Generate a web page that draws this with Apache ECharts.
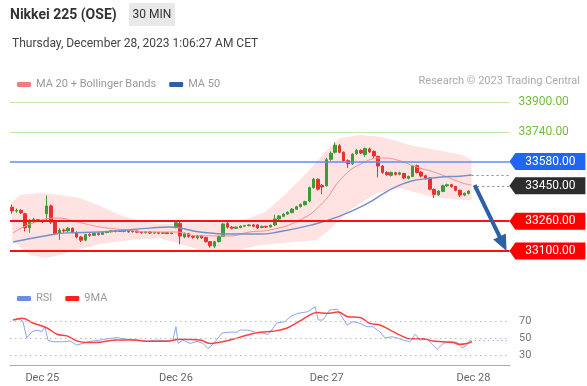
<!DOCTYPE html>
<html><head><meta charset="utf-8">
<script src="https://cdn.jsdelivr.net/npm/echarts@6/dist/echarts.min.js"></script>
<style>html,body{margin:0;padding:0;background:#fff}#c{width:587px;height:386px}</style>
</head><body><div id="c"></div>
<script>
// ---------- DATA ----------
// candles: [open, close, low, high], 30-min bars
const candles = [
 [33335,33315,33300,33350],[33315,33318,33305,33328],[33318,33305,33298,33325],[33300,33225,33205,33305],
 [33225,33262,33198,33270],[33262,33270,33250,33278],[33268,33262,33255,33272],[33262,33258,33250,33268],
 [33300,33342,33262,33398],[33342,33255,33245,33350],[33255,33195,33185,33262],[33195,33212,33160,33222],
 [33212,33208,33198,33220],[33208,33222,33200,33228],[33222,33200,33195,33226],[33200,33175,33168,33205],
 [33175,33158,33148,33180],[33158,33188,33152,33192],[33188,33184,33176,33195],[33184,33194,33180,33200],
 [33194,33189,33182,33200],[33189,33199,33186,33205],[33199,33203,33195,33208],[33203,33208,33200,33212],
 [33208,33205,33200,33212],[33205,33210,33202,33215],[33210,33206,33200,33214],[33206,33203,33198,33210],
 [33203,33207,33199,33211],[33207,33201,33196,33210],[33201,33198,33193,33205],[33198,33202,33194,33206],
 [33202,33196,33192,33205],[33196,33199,33192,33203],[33199,33195,33190,33203],[33195,33198,33191,33202],
 [33198,33194,33190,33201],[33194,33197,33190,33200],[33228,33252,33222,33262],[33248,33180,33135,33265],
 [33175,33192,33168,33200],[33192,33178,33172,33198],[33178,33174,33166,33184],[33170,33182,33162,33186],
 [33182,33170,33165,33186],[33172,33150,33145,33176],[33150,33128,33118,33154],[33126,33150,33115,33154],
 [33150,33178,33146,33182],[33178,33245,33175,33250],[33248,33228,33220,33264],[33228,33222,33216,33234],
 [33222,33228,33218,33232],[33226,33233,33222,33238],[33233,33236,33228,33240],[33236,33240,33232,33244],
 [33240,33233,33228,33245],[33240,33224,33218,33244],[33226,33232,33222,33236],[33232,33229,33224,33236],
 [33229,33238,33226,33242],[33240,33272,33234,33295],[33272,33288,33266,33294],[33286,33298,33282,33303],
 [33298,33308,33294,33313],[33306,33325,33302,33330],[33324,33338,33320,33343],[33338,33350,33334,33355],
 [33348,33365,33344,33370],[33368,33440,33362,33446],[33440,33485,33435,33492],[33485,33432,33425,33490],
 [33452,33444,33405,33460],[33450,33590,33445,33600],[33592,33625,33585,33635],[33630,33668,33622,33684],
 [33665,33630,33624,33675],[33630,33585,33578,33634],[33585,33568,33545,33592],[33568,33620,33562,33625],
 [33622,33640,33615,33648],[33640,33626,33620,33646],[33618,33650,33605,33655],[33648,33632,33626,33655],
 [33635,33610,33600,33640],[33608,33556,33495,33612],[33556,33522,33515,33562],[33522,33510,33504,33528],
 [33506,33522,33500,33526],[33520,33512,33505,33525],[33512,33520,33506,33526],[33516,33492,33486,33520],
 [33490,33500,33484,33505],[33500,33556,33496,33562],[33558,33522,33516,33564],[33524,33502,33496,33528],
 [33504,33490,33484,33510],[33492,33432,33426,33496],[33430,33404,33385,33436],[33402,33422,33396,33426],
 [33420,33450,33416,33456],[33450,33456,33444,33462],[33456,33446,33440,33460],[33446,33426,33420,33450],
 [33426,33400,33390,33430],[33400,33410,33394,33414],[33408,33422,33404,33426]
];
// [bar index, price]
const ma20 = [[0.2,33197],[4.8,33250],[10.4,33277],[15.1,33256],[20.4,33229],[26.6,33213],[32,33202],[37.8,33202],
 [43.6,33181],[50.5,33181],[55.2,33202],[59.8,33213],[66.8,33266],[72.1,33358],[76.8,33497],[81.4,33572],
 [86,33599],[89.3,33589],[93.9,33551],[98.6,33519],[104.6,33465],[106.7,33454]];
const ma50 = [[0.2,33148],[8.8,33186],[12.7,33197],[20.4,33202],[32,33223],[36.6,33229],[43.6,33202],[51.2,33191],
 [57.5,33191],[61.7,33202],[69.6,33240],[75.6,33283],[81.9,33347],[90,33454],[97.6,33492],[104.6,33503],[106.7,33508]];
const bandUpper = [[0,33363],[1.8,33401],[6.5,33411],[11.1,33401],[15.7,33385],[20.4,33342],[25,33293],[29.7,33261],
 [34.3,33245],[38,33245],[43.6,33252],[50.5,33255],[55.2,33277],[58.7,33309],[62.8,33390],[68.4,33519],[73.1,33642],
 [76.1,33707],[80.7,33723],[86,33712],[92.3,33669],[98.6,33642],[104.6,33615],[106.7,33589]];
const bandLower = [[0,33159],[4.1,33079],[7.6,33062],[11.1,33079],[15.7,33111],[20.4,33138],[27.3,33159],[34.3,33170],
 [39,33138],[43.6,33105],[50.5,33095],[57.5,33132],[62.8,33143],[70.7,33159],[74.4,33229],[78.4,33320],[84.7,33411],
 [90,33438],[97.6,33390],[104.6,33374],[106.7,33374]];
const rsi = [[0.2,72],[1.8,73],[2.5,70],[3.4,50.5],[4.6,58],[5.8,60],[6.9,58],[7.6,64],[8.3,48],[9.5,46],[11.8,46],
 [13.4,47],[15,42],[16.4,44],[18.1,46.5],[20.4,48],[22.7,50],[24.3,51],[26.6,49],[29,48],[31.3,46.5],[33.6,48],
 [35.9,47],[37.3,48],[38,64],[38.5,44],[39.6,48],[41.3,44],[42.9,46.5],[44.3,44],[45.4,38],[46.6,43],[48.7,56.5],
 [50.5,57.5],[52.2,57.5],[52.9,60],[54.7,60],[56.3,57.5],[58.2,56.5],[59.4,54.5],[61.4,68.5],[63.3,70],[64.5,76],
 [66.3,80],[68.6,82],[70.3,88],[71,72],[72.1,72],[73.7,84],[75.4,85],[77.7,66],[79.1,70],[80.7,68],[82.3,64],
 [83.7,64],[85.3,58],[86.5,50.5],[88.1,52],[89.3,50.5],[90.7,48],[92.3,46],[93.5,55],[94.6,48],[96.3,49],[97.6,42],
 [98.6,37],[100,44],[101.6,46],[103.2,45.5],[104.4,38.5],[105.5,42],[106.2,48]];
const rsiMa = [[0.2,72],[2.3,74],[4.8,68.5],[8.1,62.5],[10.4,55],[12.7,53],[15,47],[17.4,45],[20.4,45.5],[24.3,48],
 [28,48],[32,46.5],[35.9,46.5],[38.9,49],[43.6,48],[45.9,44],[48.2,45.5],[51.2,49],[54.5,54],[57.5,57.5],[60.5,58.5],
 [63.8,62.5],[66.8,71],[68.4,76],[70.7,81],[73.1,80],[75.6,81.5],[77.9,76],[80.7,75],[83,68],[85.3,66],[87.7,60],
 [90,54],[92.3,49.5],[95.3,49.5],[97.6,47],[100,46],[102.3,45],[103.9,43],[105.5,44],[106.7,46]];
const resistanceLevels = [33900, 33740];
const pivotLevel = 33580;
const lastLevel = 33450;
const supportLevels = [33260, 33100];
const target = [[107.4, 33454], [114.0, 33139]];
const rsiLevels = [70, 50, 30];
const rsiLast = 48;
const dayLabels = ['Dec 25', 'Dec 26', 'Dec 27', 'Dec 28'];
const dayIndex = [7, 38, 73, 107];

// ---------- CHART ----------
const FONT = 'Roboto, "Liberation Sans", Arial, sans-serif';
const catsMain = Array.from({length: 134}, (_, i) => String(i));
const catsRsi = Array.from({length: 116}, (_, i) => String(i));
const LEFT_END = -0.5, LINE_END = 115.5, TAG_X = 124.3;
const tagPath = 'path://M0,8.5L6,0L76,0L76,17L6,17Z';

function seg(x0, x1, v, lineStyle, label) {
  return [{coord: [x0, v], lineStyle, label: label || {show: false}}, {coord: [x1, v]}];
}
const greenStyle = {color: '#c3e4ad', width: 1, type: 'solid'};
const greenLabel = v => ({show: true, position: 'end', distance: 9, formatter: v.toFixed(2), color: '#72bd42', fontSize: 12, fontFamily: FONT});

const priceMarkLines = [
  ...resistanceLevels.map(v => seg(LEFT_END, LINE_END, v, greenStyle, greenLabel(v))),
  seg(LEFT_END, LINE_END, pivotLevel, {color: '#5d8ff0', width: 1.6, type: 'solid'}),
  ...supportLevels.map(v => seg(LEFT_END, LINE_END, v, {color: '#ff1010', width: 2, type: 'solid'})),
  seg(108.0, LINE_END, lastLevel, {color: '#888', width: 1, type: [2, 3]}),
  seg(ma50[ma50.length - 1][0], LINE_END, ma50[ma50.length - 1][1], {color: '#6f8cc4', width: 1, type: [2, 3]}),
  [{coord: target[0], symbol: 'none', lineStyle: {color: '#2e60a6', width: 4, type: 'solid'}, label: {show: false}},
   {coord: target[1], symbol: 'triangle', symbolSize: [14, 16]}]
];
const tag = (v, color) => ({coord: [TAG_X, v], itemStyle: {color}, label: {formatter: v.toFixed(2)}});
const priceTags = [
  tag(pivotLevel, '#2166f3'), tag(lastLevel, '#2d2d2d'),
  tag(supportLevels[0], '#ff0000'), tag(supportLevels[1], '#ff0000')
];
const rsiMarkLines = [
  ...rsiLevels.map(v => seg(LEFT_END, 114.8, v, {color: '#bbb', width: 1, type: [1.5, 3.5]},
      {show: true, position: 'end', distance: 12, formatter: String(v), color: '#777', fontSize: 11, fontFamily: FONT})),
  seg(rsi[rsi.length - 1][0], 114.8, rsiLast, {color: '#9db4f2', width: 1, type: [1.5, 3]})
];

const option = {
  animation: false,
  backgroundColor: '#fff',
  textStyle: {fontFamily: FONT},
  graphic: [
    {type: 'text', left: 10, top: 8, style: {text: 'Nikkei 225 (OSE)', font: 'bold 14px ' + FONT, fill: '#333'}},
    {type: 'rect', shape: {x: 129, y: 3, width: 46, height: 23}, style: {fill: '#e9e9e9'}},
    {type: 'text', x: 152, y: 15, style: {text: '30 MIN', font: '12px ' + FONT, fill: '#333', align: 'center', verticalAlign: 'middle'}},
    {type: 'text', x: 12, y: 44, style: {text: 'Thursday, December 28, 2023 1:06:27 AM CET', font: '12px ' + FONT, fill: '#444', verticalAlign: 'middle'}},
    {type: 'text', x: 580, y: 81, style: {text: 'Research \u00a9 2023 Trading Central', font: '11px ' + FONT, fill: '#aaa', align: 'right', verticalAlign: 'middle'}}
  ],
  legend: [
    {left: 12, top: 74, icon: 'roundRect', itemWidth: 14, itemHeight: 5, itemGap: 13, selectedMode: false,
     textStyle: {color: '#999', fontSize: 11},
     data: [{name: 'MA 20 + Bollinger Bands', itemStyle: {color: '#f47c7c', borderWidth: 0}},
            {name: 'MA 50', itemStyle: {color: '#2e5ea8', borderWidth: 0}}]},
    {left: 12, top: 288, icon: 'roundRect', itemWidth: 14, itemHeight: 5, itemGap: 13, selectedMode: false,
     textStyle: {color: '#999', fontSize: 11},
     data: [{name: 'RSI', itemStyle: {color: '#6b8de8', borderWidth: 0}},
            {name: '9MA', itemStyle: {color: '#ff2020', borderWidth: 0}}]}
  ],
  grid: [
    {left: 10, top: 92.69, width: 577.59, height: 167.6},
    {left: 10, top: 305, width: 500, height: 60.54}
  ],
  xAxis: [
    {type: 'category', gridIndex: 0, data: catsMain, boundaryGap: true, show: false},
    {type: 'value', gridIndex: 0, min: -0.5, max: 133.5, show: false},
    {type: 'category', gridIndex: 1, data: catsRsi, boundaryGap: true,
     axisLine: {lineStyle: {color: '#aaa', width: 1}},
     axisTick: {interval: i => i === 0, length: 5, lineStyle: {color: '#aaa'}},
     axisLabel: {interval: i => dayIndex.includes(i), formatter: (v, i) => {const k = dayIndex.indexOf(Number(v)); return k >= 0 ? dayLabels[k] : '';},
       color: '#666', fontSize: 11, margin: 7}},
    {type: 'value', gridIndex: 1, min: -0.5, max: 115.5, show: false}
  ],
  yAxis: [
    {type: 'value', gridIndex: 0, min: 33050, max: 33950, show: false},
    {type: 'value', gridIndex: 1, min: 17.5, max: 90, show: false}
  ],
  series: [
    {type: 'custom', name: 'band', xAxisIndex: 1, yAxisIndex: 0, data: [[0, 33300]], silent: true, z: 1,
     renderItem: (params, api) => {
       const pts = bandUpper.map(p => api.coord(p)).concat(bandLower.slice().reverse().map(p => api.coord(p)));
       return {type: 'polygon', shape: {points: pts}, style: {fill: 'rgba(255,150,150,0.28)'}};
     }},
    {type: 'candlestick', name: 'price', xAxisIndex: 0, yAxisIndex: 0, data: candles, barWidth: 3, z: 3,
     itemStyle: {color: '#3d9b35', color0: '#e8312f', borderColor: '#3d9b35', borderColor0: '#e8312f', borderWidth: 1}},
    {type: 'line', name: 'MA 20 + Bollinger Bands', xAxisIndex: 1, yAxisIndex: 0, data: ma20, smooth: true, showSymbol: false, z: 4,
     lineStyle: {color: '#f59090', width: 1}, itemStyle: {color: '#f47c7c'}},
    {type: 'line', name: 'MA 50', xAxisIndex: 1, yAxisIndex: 0, data: ma50, smooth: true, showSymbol: false, z: 4,
     lineStyle: {color: '#7390c8', width: 1.4}, itemStyle: {color: '#2e5ea8'},
     markLine: {silent: true, animation: false, symbol: ['none', 'none'], label: {show: false}, data: priceMarkLines},
     markPoint: {silent: true, animation: false, symbol: tagPath, symbolSize: [76, 17],
       label: {show: true, position: 'inside', color: '#fff', fontSize: 12, fontFamily: FONT, offset: [3, 0]},
       data: priceTags}},
    {type: 'line', name: 'RSI', xAxisIndex: 3, yAxisIndex: 1, data: rsi, showSymbol: false, z: 3,
     lineStyle: {color: '#8ba6f0', width: 1}, itemStyle: {color: '#6b8de8'},
     markLine: {silent: true, animation: false, symbol: ['none', 'none'], label: {show: false}, data: rsiMarkLines}},
    {type: 'line', name: '9MA', xAxisIndex: 3, yAxisIndex: 1, data: rsiMa, smooth: 0.4, showSymbol: false, z: 4,
     lineStyle: {color: '#ff4040', width: 1.5}, itemStyle: {color: '#ff2020'}}
  ]
};
const chart = echarts.init(document.getElementById('c'));
chart.setOption(option);
</script>
</body></html>
